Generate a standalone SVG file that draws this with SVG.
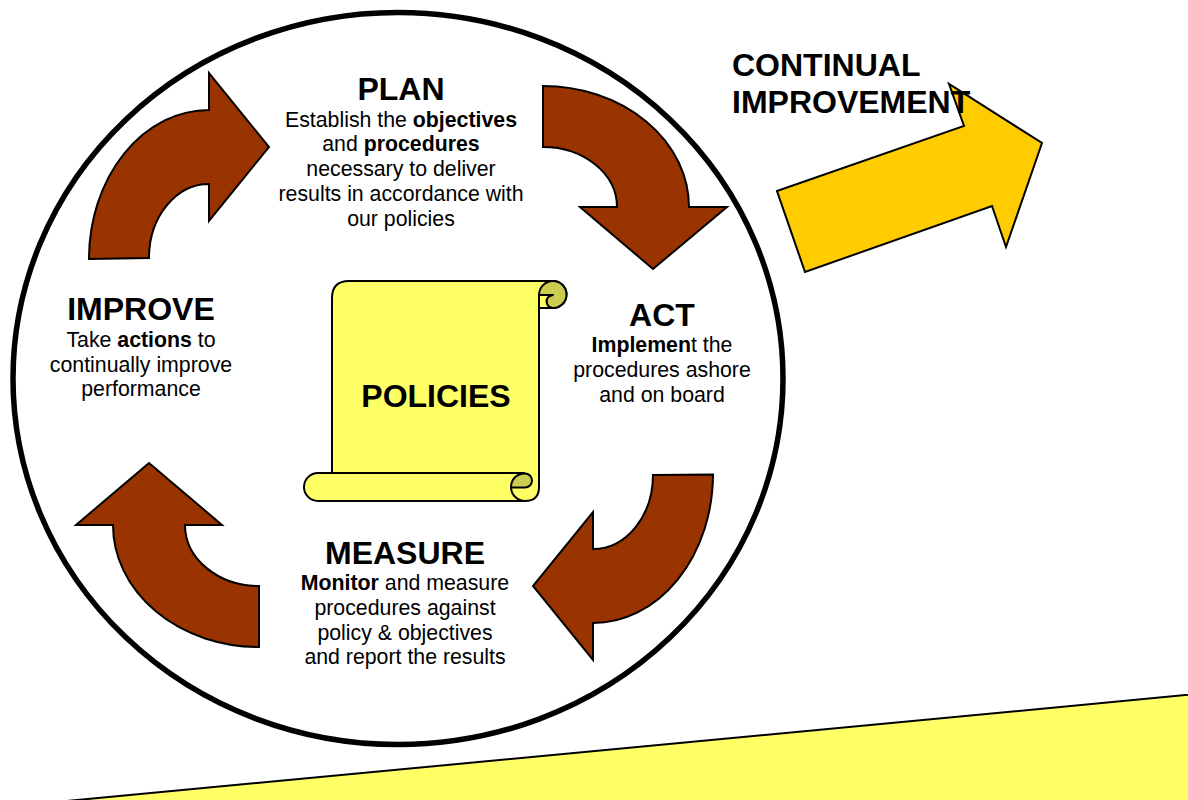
<svg xmlns="http://www.w3.org/2000/svg" width="1188" height="800" viewBox="0 0 1188 800">
<style>
text{font-family:"Liberation Sans",Arial,sans-serif;fill:#000;text-anchor:middle}
.h{font-size:32px;font-weight:bold}
.b{font-size:21.3px}
.s{font-weight:bold}
.ar{fill:#993300;stroke:#000;stroke-width:2;stroke-linejoin:miter}
.sc{fill:#ffff66;stroke:#000;stroke-width:2;stroke-linejoin:round}
.dk{fill:#cccc52;stroke:#000;stroke-width:2}
</style>
<rect width="1188" height="800" fill="#fff"/>
<g id="base"><polygon points="56,802 1250,689 1250,850 56,850" fill="#ffff66" stroke="#000" stroke-width="2"/></g>
<g id="cycle-circle"><ellipse cx="398" cy="378.500" rx="385" ry="366" fill="#fff" stroke="#000" stroke-width="5.500"/></g>
<g id="connectors">
<path class="ar" d="M543,86A146,121 0 0 1 689,207H727L653,269L580,207H617A74,60 0 0 0 543,147Z"/>
<path class="ar" d="M713,474.500A120,149 0 0 1 593,623V660L533,586L593,512V549A60,74 0 0 0 653,475Z"/>
<path class="ar" d="M259,647A146,122 0 0 1 113,525H76L149,463L222,525H185A74,61 0 0 0 259,586Z"/>
<path class="ar" d="M89,259A120,149 0 0 1 209,110V73L269,147L209,221V184A60,74 0 0 0 149,258Z"/>
</g>
<g id="policies">
<path class="sc" d="M332,473V298Q332,281 349,281H553A13.500,13.500 0 0 1 553,308H539V487Q539,501 525,501H318A14,14 0 0 1 318,473Z"/>
<path d="M332,473H525" fill="none" stroke="#000" stroke-width="2"/>
<path class="dk" d="M539,295A14,14 0 0 1 553,281A13.500,13.500 0 0 1 553,308A6.500,6.500 0 0 1 553,295Z"/>
<path class="sc" d="M539,295H553A6.500,6.500 0 0 0 553,308H539Z"/>
<path class="dk" d="M511,487.500C511,479 517,473.500 525,473.500A7,7 0 0 1 525,487.500Z"/>
<path d="M511,487.500A14,14 0 0 0 525,501" fill="none" stroke="#000" stroke-width="2"/>
<text class="h" x="436" y="407">POLICIES</text>
</g>
<g id="plan">
<text class="h" x="401" y="100">PLAN</text>
<text class="b" x="401" y="127">Establish the <tspan class="s">objectives</tspan></text>
<text class="b" x="401" y="151">and <tspan class="s">procedures</tspan></text>
<text class="b" x="401" y="176">necessary to deliver</text>
<text class="b" x="401" y="201">results in accordance with</text>
<text class="b" x="401" y="226">our policies</text>
</g>
<g id="act">
<text class="h" x="662" y="326">ACT</text>
<text class="b" x="662" y="352"><tspan class="s">Implemen</tspan>t the</text>
<text class="b" x="662" y="377">procedures ashore</text>
<text class="b" x="662" y="402">and on board</text>
</g>
<g id="measure">
<text class="h" x="405" y="564">MEASURE</text>
<text class="b" x="405" y="590"><tspan class="s">Monitor</tspan> and measure</text>
<text class="b" x="405" y="615">procedures against</text>
<text class="b" x="405" y="640">policy &amp; objectives</text>
<text class="b" x="405" y="664">and report the results</text>
</g>
<g id="improve">
<text class="h" x="141" y="320">IMPROVE</text>
<text class="b" x="141" y="347">Take <tspan class="s">actions</tspan> to</text>
<text class="b" x="141" y="372">continually improve</text>
<text class="b" x="141" y="396">performance</text>
</g>
<g id="continual-improvement">
<polygon points="777,191 964,126 949,84 1042,143 1006,247 992,206 805,272" fill="#ffcc00" stroke="#000" stroke-width="2"/>
<text class="h" x="732" y="76" style="text-anchor:start">CONTINUAL</text>
<text class="h" x="732" y="113" style="text-anchor:start">IMPROVEMENT</text>
</g>
</svg>
